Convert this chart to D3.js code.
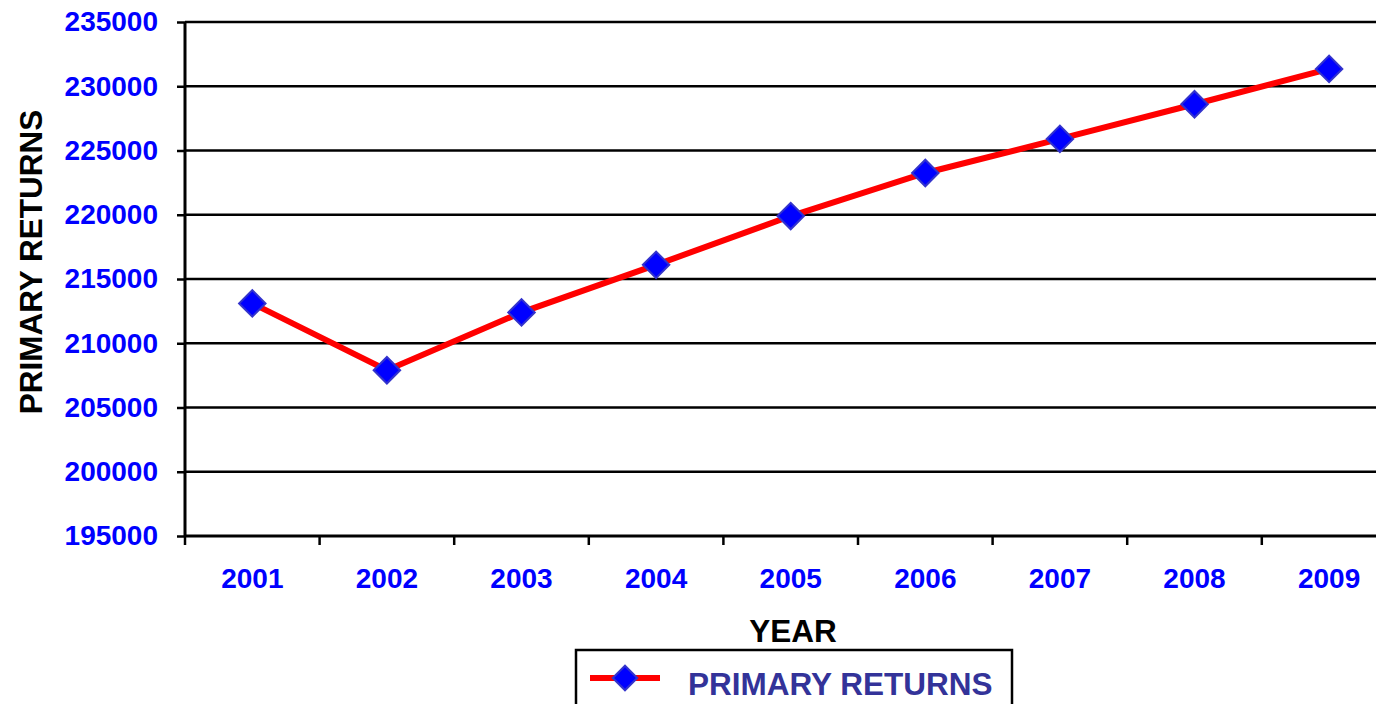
<!DOCTYPE html>
<html lang="en">
<head>
    <meta charset="UTF-8">
    <title>Primary Returns</title>
    <script src="https://d3js.org/d3.v7.min.js"></script>
    <style>
        body { margin: 0; background: #fff; overflow: hidden; }
        text { font-family: "Liberation Sans", Arial, sans-serif; font-weight: bold; }
    </style>
</head>
<body>
    <div id="chart"></div>
    <script>
        // data
        const years = ['2001', '2002', '2003', '2004', '2005', '2006', '2007', '2008', '2009'];
        const returns = [213100, 207900, 212400, 216100, 219900, 223250, 225900, 228600, 231350];
        const yTicks = [195000, 200000, 205000, 210000, 215000, 220000, 225000, 230000, 235000];

        const width = 1376, height = 704;
        const plotLeft = 185, plotTop = 22, plotBottom = 536;
        const bandW = 134.6;
        const tickFont = '28px';
        const titleFont = '31.5px';

        const svg = d3.select('#chart').append('svg')
            .attr('width', width)
            .attr('height', height)
            .style('display', 'block');

        const x = d3.scaleBand()
            .domain(years)
            .range([plotLeft, plotLeft + bandW * years.length]);

        const y = d3.scaleLinear()
            .domain([195000, 235000])
            .range([plotBottom, plotTop]);

        // grid lines
        svg.append('g')
            .selectAll('line')
            .data(yTicks.slice(1))
            .join('line')
            .attr('x1', plotLeft).attr('x2', width)
            .attr('y1', d => y(d)).attr('y2', d => y(d))
            .attr('stroke', '#000')
            .attr('stroke-width', 2.5);

        // y axis
        const yAxis = svg.append('g')
            .attr('transform', `translate(${plotLeft},0)`)
            .call(d3.axisLeft(y).tickValues(yTicks).tickSize(8).tickPadding(19).tickFormat(d3.format('d')));
        yAxis.select('.domain').attr('stroke-width', 3).attr('d', `M0,${plotTop}V${plotBottom}`);
        yAxis.selectAll('.tick line').attr('stroke-width', 2.5);
        yAxis.selectAll('.tick text')
            .attr('fill', '#0000FF')
            .attr('font-size', tickFont)
            .attr('font-family', '"Liberation Sans", Arial, sans-serif')
            .attr('font-weight', 'bold');

        // x axis
        const xAxis = svg.append('g')
            .attr('transform', `translate(0,${plotBottom})`)
            .call(d3.axisBottom(x).tickSize(0).tickPadding(32));
        xAxis.select('.domain').attr('stroke-width', 3).attr('d', `M${plotLeft},0H${width}`);
        xAxis.selectAll('.tick text')
            .attr('fill', '#0000FF')
            .attr('font-size', tickFont)
            .attr('font-family', '"Liberation Sans", Arial, sans-serif')
            .attr('font-weight', 'bold');

        // band boundary ticks on x axis
        svg.append('g')
            .selectAll('line')
            .data(years)
            .join('line')
            .attr('x1', d => x(d)).attr('x2', d => x(d))
            .attr('y1', plotBottom).attr('y2', plotBottom + 9)
            .attr('stroke', '#000')
            .attr('stroke-width', 2.5);

        // axis titles
        svg.append('text')
            .attr('transform', 'translate(42,262) rotate(-90)')
            .attr('text-anchor', 'middle')
            .attr('font-size', titleFont)
            .attr('fill', '#000')
            .text('PRIMARY RETURNS');

        svg.append('text')
            .attr('x', 793).attr('y', 642)
            .attr('text-anchor', 'middle')
            .attr('font-size', titleFont)
            .attr('fill', '#000')
            .text('YEAR');

        // line
        const line = d3.line()
            .x((d, i) => x(years[i]) + x.bandwidth() / 2)
            .y(d => y(d));

        svg.append('path')
            .datum(returns)
            .attr('d', line)
            .attr('fill', 'none')
            .attr('stroke', '#FF0000')
            .attr('stroke-width', 6);

        // diamond markers
        const diamond = d3.symbol().type(d3.symbolSquare).size(350);
        svg.append('g')
            .selectAll('path')
            .data(returns)
            .join('path')
            .attr('d', diamond)
            .attr('transform', (d, i) => `translate(${x(years[i]) + x.bandwidth() / 2},${y(d)}) rotate(45)`)
            .attr('fill', '#0000FF')
            .attr('stroke', '#3333CC')
            .attr('stroke-width', 2);

        // legend
        const lg = svg.append('g');
        lg.append('rect')
            .attr('x', 576).attr('y', 650)
            .attr('width', 436).attr('height', 70)
            .attr('fill', '#fff')
            .attr('stroke', '#000')
            .attr('stroke-width', 2.5);
        lg.append('line')
            .attr('x1', 590).attr('x2', 660)
            .attr('y1', 678).attr('y2', 678)
            .attr('stroke', '#FF0000')
            .attr('stroke-width', 6);
        lg.append('path')
            .attr('d', d3.symbol().type(d3.symbolSquare).size(300))
            .attr('transform', 'translate(625,678) rotate(45)')
            .attr('fill', '#0000FF')
            .attr('stroke', '#3333CC')
            .attr('stroke-width', 2);
        lg.append('text')
            .attr('x', 688).attr('y', 695)
            .attr('font-size', titleFont)
            .attr('fill', '#333399')
            .text('PRIMARY RETURNS');
    </script>
</body>
</html>
